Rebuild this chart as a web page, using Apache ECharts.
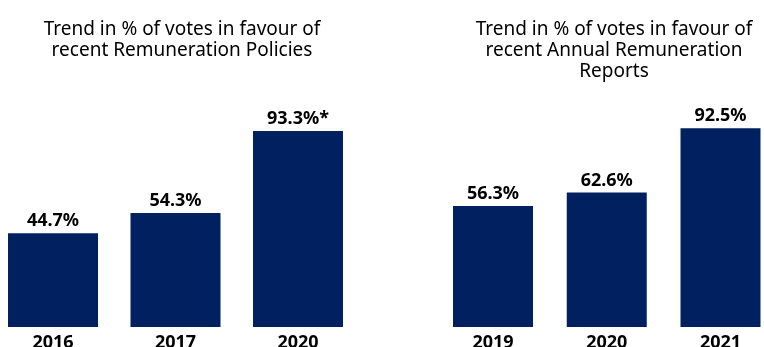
<!DOCTYPE html>
<html>
<head>
<meta charset="utf-8">
<script src="https://cdn.jsdelivr.net/npm/echarts@6/dist/echarts.min.js"></script>
<style>
  html, body { margin: 0; padding: 0; background: #ffffff; }
  #chart { width: 764px; height: 347px; }
</style>
</head>
<body>
<div id="chart"></div>
<script>
// Remuneration Policies: years and % of votes in favour
const policyYears = ['2016', '2017', '2020'];
const policyValues = [44.7, 54.3, 93.3];
const policySuffix = ['%', '%', '%*'];

// Annual Remuneration Reports: years and % of votes in favour
const reportYears = ['2019', '2020', '2021'];
const reportValues = [56.3, 62.6, 92.5];
const reportSuffix = ['%', '%', '%'];

const titles = [
  'Trend in % of votes in favour of\nrecent Remuneration Policies',
  'Trend in % of votes in favour of\nrecent Annual Remuneration\nReports'
];

const NAVY = '#002060';
const FONT = '"Noto Sans", sans-serif';

function makeSeries(values, suffix, idx, barWidth) {
  return {
    type: 'bar',
    xAxisIndex: idx,
    yAxisIndex: idx,
    data: values,
    barWidth: barWidth,
    itemStyle: { color: NAVY },
    label: {
      show: true,
      position: 'top',
      distance: 3,
      color: '#000000',
      fontFamily: FONT,
      fontWeight: 'bold',
      fontSize: 18,
      formatter: p => p.value + suffix[p.dataIndex]
    },
    animation: false
  };
}

// boundaryGap off: first and last year sit on the grid edges
function makeXAxis(cats, idx) {
  return {
    type: 'category',
    gridIndex: idx,
    data: cats,
    boundaryGap: false,
    axisLine: { show: false },
    axisTick: { show: false },
    axisLabel: {
      margin: 7,
      color: '#000000',
      fontFamily: FONT,
      fontWeight: 'bold',
      fontSize: 18,
      lineHeight: 18
    }
  };
}

function makeYAxis(idx) {
  return {
    type: 'value',
    gridIndex: idx,
    min: 0,
    max: 100,
    show: false,
    splitLine: { show: false }
  };
}

const titleStyle = { fontFamily: FONT, fontWeight: 'normal', fontSize: 19, lineHeight: 21, color: '#000000' };

const chart = echarts.init(document.getElementById('chart'), null, { renderer: 'canvas' });
chart.setOption({
  backgroundColor: '#ffffff',
  animation: false,
  title: [
    { text: titles[0], left: 177, top: 14, textAlign: 'center', textStyle: titleStyle },
    { text: titles[1], left: 609, top: 14, textAlign: 'center', textStyle: titleStyle }
  ],
  grid: [
    { left: 53, width: 245, top: 117, bottom: 20, containLabel: false, outerBoundsMode: 'none' },
    { left: 493, width: 227.5, top: 112, bottom: 20, containLabel: false, outerBoundsMode: 'none' }
  ],
  xAxis: [makeXAxis(policyYears, 0), makeXAxis(reportYears, 1)],
  yAxis: [makeYAxis(0), makeYAxis(1)],
  series: [
    makeSeries(policyValues, policySuffix, 0, 90),
    makeSeries(reportValues, reportSuffix, 1, 80)
  ]
});
</script>
</body>
</html>
